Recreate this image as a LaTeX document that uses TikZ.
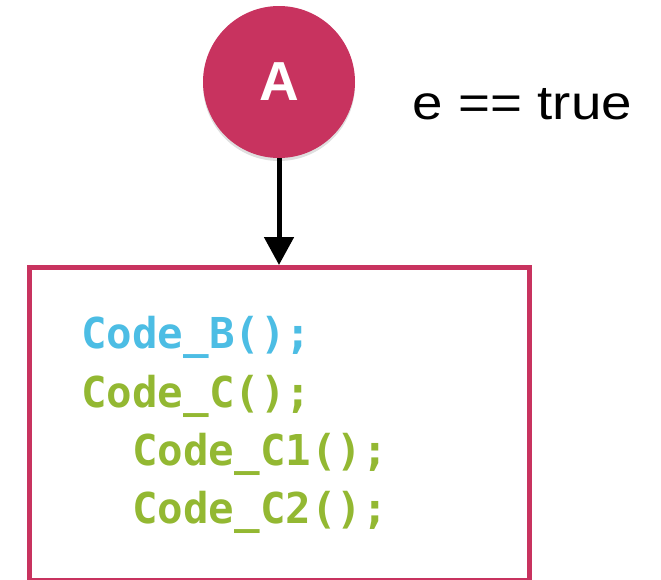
\documentclass[tikz,border=0pt]{standalone}
\usepackage{fontspec}
\setmainfont{Liberation Sans}
\newfontfamily\codefont{DejaVu Sans Mono}
\usetikzlibrary{arrows.meta,shadows}
\definecolor{crimson}{HTML}{C8335F}
\definecolor{codeblue}{HTML}{4CBDE4}
\definecolor{codegreen}{HTML}{93B832}
\tikzset{
  statebubble/.style={circle, fill=crimson, minimum size=152pt, inner sep=0pt,
    text=white, font=\fontsize{55}{55}\selectfont\bfseries,
    drop shadow={opacity=0.25, shadow xshift=0pt, shadow yshift=-3pt}},
  codebox/.style={draw=crimson, line width=5pt, minimum width=500pt,
    minimum height=313pt, inner sep=0pt, fill=white,
    drop shadow={opacity=0.18, shadow xshift=1pt, shadow yshift=-2pt}},
  codeline/.style={anchor=base west, inner sep=0pt,
    font=\codefont\bfseries\fontsize{42.5}{42.5}\selectfont},
  flow/.style={line width=5pt, -{Triangle[width=29pt,length=28pt]}},
  guard/.style={anchor=base, inner sep=0pt, font=\fontsize{48}{48}\selectfont}
}
\begin{document}
\begin{tikzpicture}[x=1pt,y=1pt]
  \useasboundingbox (0,0) rectangle (661,-579);
  \node[codebox] (box) at (279,-424) {};
  \node[statebubble] (A) at (279,-82) {A};
  \draw[flow] (A.south) -- (box.north);
  \node[guard] (cond) at (522.5,-119) {\scalebox{1.14}[1]{e == true}};
  \node[codeline, text=codeblue]  (lb)  at (81,-348) {Code\_B();};
  \node[codeline, text=codegreen] (lc)  at (81,-407) {Code\_C();};
  \node[codeline, text=codegreen] (lc1) at (132,-465) {Code\_C1();};
  \node[codeline, text=codegreen] (lc2) at (132,-523) {Code\_C2();};
\end{tikzpicture}
\end{document}
